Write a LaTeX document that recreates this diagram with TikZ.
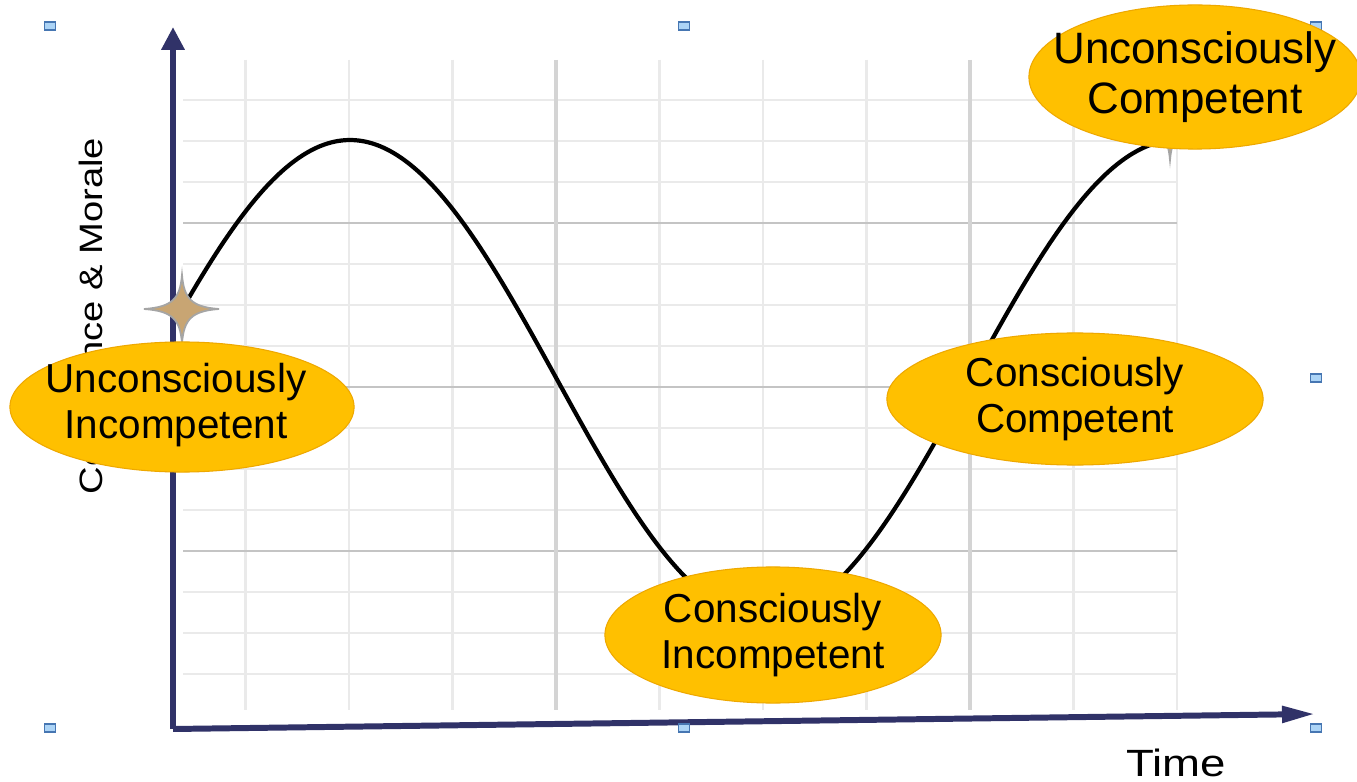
\documentclass[tikz,border=0pt]{standalone}
\usepackage{fontspec}
\usepackage{graphicx}
\setmainfont{Liberation Sans}
\usetikzlibrary{shapes.geometric,arrows.meta}
\definecolor{axisblue}{RGB}{48,50,104}
\definecolor{stagegold}{RGB}{255,192,0}
\definecolor{stageedge}{RGB}{238,168,0}
\definecolor{sparklefill}{RGB}{200,165,115}
\definecolor{sparkleedge}{RGB}{165,165,165}
\definecolor{handlefill}{RGB}{172,212,246}
\definecolor{handleedge}{RGB}{70,118,178}
\tikzset{
  minorline/.style={draw={rgb,255:red,234;green,234;blue,234}, line width=0.6pt},
  majorhline/.style={draw={rgb,255:red,196;green,196;blue,196}, line width=0.45pt},
  majorvline/.style={draw={rgb,255:red,212;green,212;blue,212}, line width=0.9pt},
  axisline/.style={draw=axisblue, line width=1.7pt},
  curveline/.style={draw=black, line width=1.2pt},
  sparkle/.style={fill=sparklefill, draw=sparkleedge, line width=0.5pt},
  handle/.style={rectangle, fill=handlefill, draw=handleedge, line width=0.35pt,
    minimum width=0.11cm, minimum height=0.08cm, inner sep=0pt},
  stage/.style={ellipse, fill=stagegold, draw=stageedge, line width=0.3pt, inner sep=0pt},
  stagetext/.style={align=center, inner sep=0pt, font=\fontsize{11.5}{13}\selectfont},
}
\begin{document}
\begin{tikzpicture}[x=0.01cm, y=-0.01cm]
  \useasboundingbox (0,0) rectangle (1357,782);
  \fill[white] (0,0) rectangle (1357,782);
  % grid
  \foreach \y in {100,141,182,264,305,346,428,469,510,592,633,674}
    \draw[minorline] (183,\y) -- (1177,\y);
  \foreach \x in {245.5,349,452.5,659.5,763,866.5,1073.5,1177}
    \draw[minorline] (\x,60) -- (\x,710);
  \foreach \y in {223,387,551}
    \draw[majorhline] (183,\y) -- (1177,\y);
  \foreach \x in {556,970}
    \draw[majorvline] (\x,60) -- (\x,710);
  % axes
  \coordinate (origin) at (173,729);
  \coordinate (ytip) at (173,27);
  \coordinate (xtip) at (1315,714);
  \draw[axisline, -{Triangle[length=6.5pt,width=6.3pt]}] (origin) -- (ytip);
  \draw[axisline, -{Triangle[length=9.4pt,width=4.5pt]}] (origin) -- (xtip);
  % curve
  \draw[curveline] plot[domain=185:1177, samples=150, smooth]
    (\x, {379-239*cos(0.43531*(\x-350))});
  \node[anchor=base, rotate=90, font=\fontsize{9.2}{11}\selectfont] (ylab) at (103,316)
    {\scalebox{1.18}[1]{Confidence \& Morale}};
  % selection handles
  \foreach \p [count=\i] in {(50,26),(684,26),(1316,26),(50,378),(1316,378),(50,728),(684,728),(1316,728)}
    \node[handle] (handle\i) at \p {};
  % sparkles
  \draw[sparkle, shift={(182,309)}] (0,-34) .. controls (2,-10) and (10,-2) .. (37,0)
    .. controls (10,2) and (2,10) .. (0,34) .. controls (-2,10) and (-10,2) .. (-38,0)
    .. controls (-10,-2) and (-2,-10) .. (0,-34) -- cycle;
  \draw[sparkle, shift={(1170,126)}] (0,-34) .. controls (2,-10) and (10,-2) .. (37,0)
    .. controls (10,2) and (2,10) .. (0,34) .. controls (-2,10) and (-10,2) .. (-38,0)
    .. controls (-10,-2) and (-2,-10) .. (0,-34) -- cycle;
  % stages
  \node[stage, minimum width=3.44cm, minimum height=1.30cm,
    label={[stagetext, xshift=-0.06cm, yshift=0.02cm]center:Unconsciously\\Incompetent}] (ui) at (182,407) {};
  \node[stage, minimum width=3.36cm, minimum height=1.36cm,
    label={[stagetext]center:Consciously\\Incompetent}] (ci) at (773,635) {};
  \node[stage, minimum width=3.76cm, minimum height=1.32cm,
    label={[stagetext]center:Consciously\\Competent}] (cc) at (1075,399) {};
  \node[stage, minimum width=3.32cm, minimum height=1.44cm,
    label={[stagetext, font=\fontsize{12.5}{14.2}\selectfont]center:Unconsciously\\Competent}] (uc) at (1195,77) {};
  \node[anchor=base, font=\fontsize{10.8}{13}\selectfont] (time) at (1176,776)
    {\scalebox{1.2}[1]{Time}};
\end{tikzpicture}
\end{document}
